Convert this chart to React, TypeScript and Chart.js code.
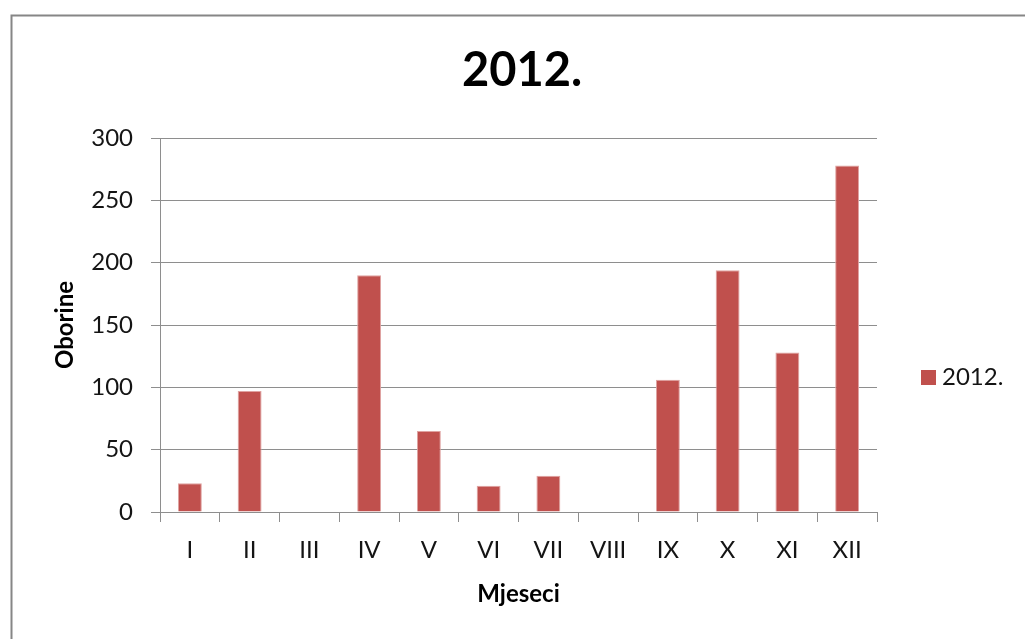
import { useEffect, useRef } from "react";
import { Chart, registerables } from "chart.js";

Chart.register(...registerables);

const months = ["I", "II", "III", "IV", "V", "VI", "VII", "VIII", "IX", "X", "XI", "XII"];
const precipitation = [23, 97, 0, 190, 65, 21, 29, 0, 106, 194, 128, 278];
const seriesLabel = "2012.";
const chartTitle = "2012.";
const xAxisTitle = "Mjeseci";
const yAxisTitle = "Oborine";
const yMin = 0;
const yMax = 300;
const yStep = 50;

const FONT = "Lato, 'Open Sans', sans-serif";
const BAR = "#C0504D";
const GRID = "#8e8e8e";
const TEXT = "#141414";

const decor = {
  id: "decor",
  beforeDraw(chart: any) {
    const ctx = chart.ctx;
    ctx.save();
    ctx.strokeStyle = "#868686";
    ctx.lineWidth = 2;
    ctx.strokeRect(11.5, 15.5, 3000, 3000);
    ctx.restore();
  },
  afterDraw(chart: any) {
    const ctx = chart.ctx;
    ctx.save();
    // title
    ctx.fillStyle = "#000";
    ctx.font = `bold 47px ${FONT}`;
    ctx.textAlign = "center";
    ctx.textBaseline = "middle";
    ctx.fillText(chartTitle, 522, 71);
    // legend
    const ds = chart.data.datasets[0];
    ctx.fillStyle = ds.backgroundColor;
    ctx.fillRect(921, 370, 15, 15);
    ctx.fillStyle = TEXT;
    ctx.font = `24px ${FONT}`;
    ctx.textAlign = "left";
    ctx.fillText(ds.label, 942, 377);
    ctx.restore();
  },
};

export default function App() {
  const ref = useRef<HTMLCanvasElement | null>(null);

  useEffect(() => {
    if (!ref.current) return;
    const chart = new Chart(ref.current, {
      type: "bar",
      data: {
        labels: months,
        datasets: [
          {
            label: seriesLabel,
            data: precipitation,
            backgroundColor: BAR,
            borderColor: "#DFA3A1",
            borderWidth: 1,
            borderSkipped: "start",
            barPercentage: 0.4,
            categoryPercentage: 1,
          },
        ],
      },
      options: {
        responsive: false,
        animation: false,
        devicePixelRatio: 1,
        layout: { padding: { left: 0, top: 138, right: 148, bottom: 0 } },
        plugins: {
          legend: { display: false },
          title: { display: false },
          tooltip: { enabled: false },
        },
        scales: {
          x: {
            afterFit(scale: any) {
              scale.height = 127;
            },
            grid: {
              display: true,
              drawOnChartArea: false,
              drawTicks: true,
              tickLength: 10,
              color: GRID,
              offset: true,
            },
            border: { display: true, color: GRID },
            ticks: {
              color: TEXT,
              font: { family: FONT, size: 24 },
              padding: 13.5,
              maxRotation: 0,
              autoSkip: false,
            },
            title: {
              display: true,
              text: xAxisTitle,
              color: "#000",
              font: { family: FONT, size: 24, weight: "bold" },
              padding: { top: 0, bottom: 30 },
            },
          },
          y: {
            min: yMin,
            max: yMax,
            afterFit(scale: any) {
              scale.width = 160;
            },
            grid: {
              color: GRID,
              drawTicks: true,
              tickLength: 9,
            },
            border: { display: true, color: GRID },
            ticks: {
              stepSize: yStep,
              color: TEXT,
              font: { family: FONT, size: 24 },
              padding: 18,
            },
            title: {
              display: true,
              text: yAxisTitle,
              color: "#000",
              font: { family: FONT, size: 24, weight: "bold" },
              padding: { top: 51, bottom: 0 },
            },
          },
        },
      },
      plugins: [decor],
    });
    const fonts: any = (document as any).fonts;
    if (fonts && fonts.load) {
      Promise.all([fonts.load(`24px Lato`), fonts.load(`bold 47px Lato`)]).then(() => {
        try {
          chart.update();
        } catch (e) {}
      });
    }
    return () => chart.destroy();
  }, []);

  return (
    <div
      style={{
        position: "fixed",
        left: 0,
        top: 0,
        width: 1025,
        height: 639,
        overflow: "hidden",
        background: "#fff",
      }}
    >
      <canvas ref={ref} width={1025} height={639} style={{ width: 1025, height: 639, display: "block" }} />
    </div>
  );
}
